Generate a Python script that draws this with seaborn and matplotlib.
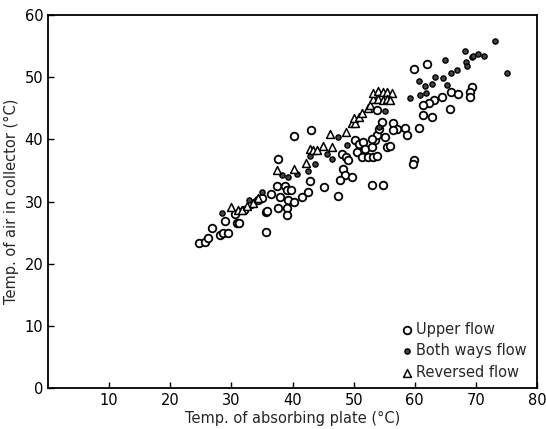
import matplotlib
matplotlib.use("Agg")
import matplotlib.pyplot as plt
import pandas as pd
import seaborn as sns

# ── Data ──────────────────────────────────────────────────────────────────────
upper_x = [24.7, 25.6, 26.1, 26.8, 28.1, 28.6, 29.5, 29.0, 30.9, 31.3, 30.6, 32.0,
           33.2, 34.4, 35.0, 36.5, 35.7, 35.9, 35.7, 37.4, 38.7, 39.1, 39.8, 38.0,
           39.3, 40.3, 41.5, 42.6, 37.7, 39.1, 39.1, 37.7, 40.3, 43.0, 42.9, 45.2,
           47.4, 48.1, 48.7, 49.0, 48.3, 48.6, 47.8, 49.7, 50.2, 50.8, 51.6, 51.9,
           53.0, 53.5, 53.8, 54.1, 54.6, 53.9, 50.5, 51.3, 52.3, 53.1, 53.8, 53.0,
           53.0, 54.8, 55.4, 56.0, 56.4, 57.1, 56.5, 58.4, 58.8, 59.8, 59.7, 55.2,
           59.9, 62.0, 66.0, 67.1, 64.4, 63.1, 62.3, 61.3, 69.3, 69.0, 69.1, 65.7,
           61.3, 62.9, 60.7]
upper_y = [23.4, 23.5, 24.2, 25.8, 24.6, 25.0, 24.9, 26.9, 26.6, 26.6, 28.0, 28.6,
           29.6, 30.2, 30.5, 31.2, 28.3, 28.5, 25.1, 32.5, 32.5, 31.9, 31.8, 30.7,
           30.3, 29.9, 30.8, 31.6, 29.0, 28.9, 27.8, 36.8, 40.5, 41.5, 33.3, 32.3,
           30.9, 37.7, 37.2, 36.7, 35.3, 34.2, 33.4, 34.0, 39.9, 39.3, 39.6, 38.5,
           38.8, 39.9, 40.7, 41.7, 42.8, 44.7, 38.0, 37.2, 37.1, 37.2, 37.3, 40.1,
           32.7, 32.6, 38.8, 38.9, 42.6, 41.7, 41.5, 41.9, 40.7, 36.7, 36.1, 40.4,
           51.4, 52.2, 47.6, 47.3, 46.8, 46.3, 45.8, 45.5, 48.4, 47.6, 46.9, 44.9,
           44.0, 43.6, 41.9]

both_x = [28.5, 32.9, 35.0, 38.3, 39.3, 40.7, 42.6, 43.6, 42.9, 45.6, 46.4, 47.5,
          48.9, 54.1, 55.2, 59.2, 60.9, 61.9, 60.7, 61.7, 62.9, 63.3, 64.7, 65.3,
          64.9, 65.9, 66.9, 68.4, 68.5, 68.2, 69.3, 69.6, 70.3, 71.4, 73.2, 75.1]
both_y = [28.2, 30.2, 31.6, 34.2, 34.0, 34.5, 35.0, 36.1, 37.3, 37.7, 36.9, 40.4,
          39.1, 42.0, 44.5, 46.6, 47.1, 47.4, 49.4, 48.6, 49.0, 50.1, 49.9, 48.7,
          52.8, 50.7, 51.1, 52.5, 51.9, 54.2, 53.2, 53.5, 53.8, 53.5, 55.8, 50.7]

rev_x = [30.0, 31.1, 31.7, 32.5, 33.5, 34.3, 37.5, 40.3, 42.2, 42.8, 43.3, 44.0,
         45.0, 46.4, 46.2, 48.7, 49.7, 50.2, 50.0, 50.8, 51.4, 52.3, 52.7, 53.2,
         53.2, 54.0, 54.0, 54.8, 54.8, 55.5, 55.5, 56.2, 56.0]
rev_y = [29.2, 28.6, 28.7, 29.3, 29.8, 30.5, 35.1, 35.3, 36.2, 38.5, 38.3, 38.3,
         38.9, 38.8, 40.9, 41.2, 42.6, 42.6, 43.4, 43.6, 44.2, 45.0, 45.5, 46.5,
         47.5, 47.8, 46.5, 47.6, 46.4, 47.7, 46.5, 47.5, 46.4]

x_ticks = [10, 20, 30, 40, 50, 60, 70, 80]
y_ticks = [0, 10, 20, 30, 40, 50, 60]

df = pd.concat([
    pd.DataFrame({"x": upper_x, "y": upper_y, "flow": "Upper flow"}),
    pd.DataFrame({"x": both_x, "y": both_y, "flow": "Both ways flow"}),
    pd.DataFrame({"x": rev_x, "y": rev_y, "flow": "Reversed flow"}),
])

# ── Plot ──────────────────────────────────────────────────────────────────────
sns.set_style("ticks")
plt.rcParams["font.family"] = ["DejaVu Sans"]

fig = plt.figure(figsize=(5.46, 4.29), dpi=100)
ax = fig.add_axes([0.088, 0.0956, 0.8955, 0.869])

styles = {
    "Upper flow": dict(marker="o", s=30, facecolor="white", edgecolor="black", linewidth=1.3),
    "Both ways flow": dict(marker="o", s=14, facecolor="#444444", edgecolor="black", linewidth=1.0),
    "Reversed flow": dict(marker="^", s=32, facecolor="white", edgecolor="black", linewidth=1.1),
}
for name, st in styles.items():
    sub = df[df["flow"] == name]
    sns.scatterplot(data=sub, x="x", y="y", ax=ax, label=name, zorder=3, **st)

ax.set_xlim(0, 80)
ax.set_ylim(0, 60)
ax.set_xticks(x_ticks)
ax.set_yticks(y_ticks)
ax.tick_params(direction="in", length=4, width=1, labelsize=10.5, colors="black")
for sp in ax.spines.values():
    sp.set_linewidth(1.3)
    sp.set_color("black")

ax.set_xlabel("Temp. of absorbing plate (°C)", fontsize=10.5, labelpad=2)
ax.set_ylabel("Temp. of air in collector (°C)", fontsize=10.5, labelpad=4)

leg = ax.legend(loc="lower right", frameon=False, fontsize=10.5, handletextpad=0.1,
                handlelength=1.0, borderaxespad=0.3, labelspacing=0.45,
                bbox_to_anchor=(1.0, -0.005))

fig.savefig("out.png", dpi=100)
